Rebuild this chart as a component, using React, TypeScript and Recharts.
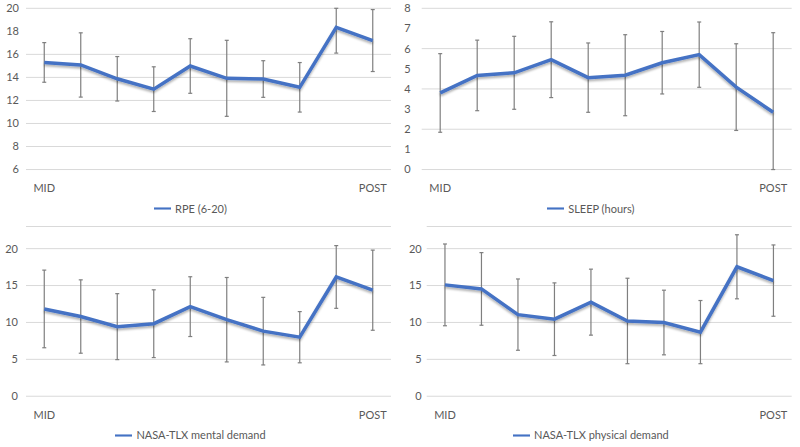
import React from 'react';
import { LineChart, Line, XAxis, YAxis, CartesianGrid, ErrorBar, Legend } from 'recharts';

// only the first and last time points carry a label
const xLabels = ['MID', '', '', '', '', '', '', '', '', 'POST'];

const rpeMean = [15.3, 15.08, 13.88, 12.98, 14.99, 13.92, 13.86, 13.14, 18.34, 17.2];
const rpeSd = [1.72, 2.79, 1.93, 1.94, 2.37, 3.3, 1.59, 2.15, 2.23, 2.69];
const rpeTicks = [6, 8, 10, 12, 14, 16, 18, 20];

const sleepMean = [3.8, 4.67, 4.8, 5.45, 4.56, 4.68, 5.3, 5.7, 4.09, 2.84];
const sleepSd = [1.95, 1.75, 1.81, 1.88, 1.72, 2.01, 1.55, 1.62, 2.15, 3.95];
const sleepTicks = [0, 1, 2, 3, 4, 5, 6, 7, 8];

const mentalMean = [11.83, 10.8, 9.43, 9.83, 12.14, 10.37, 8.82, 8.0, 16.16, 14.37];
const mentalSd = [5.26, 4.97, 4.47, 4.59, 4.05, 5.72, 4.58, 3.47, 4.25, 5.43];

const physicalMean = [15.09, 14.54, 11.06, 10.44, 12.75, 10.2, 9.99, 8.69, 17.54, 15.67];
const physicalSd = [5.54, 4.92, 4.83, 4.92, 4.47, 5.79, 4.38, 4.28, 4.34, 4.83];

const nasaTicks = [0, 5, 10, 15, 20];

const TEXT = '#595959';
const BLUE = '#4472C4';

const Panel = ({ id, left, top, height, marginTop, marginRight, yWidth, yGap, name, mean, sd, domain, ticks }: any) => {
    const data = mean.map((m: number, i: number) => ({ i, value: m, sd: sd[i] }));
    // error bars are cut at the axis range, like the original plot area does
    const errRange = (d: any) => [
        Math.min(d.sd, d.value - domain[0]),
        Math.min(d.sd, domain[1] - d.value),
    ];
    return (
        <div style={{ position: 'absolute', left, top }}>
            <LineChart
                width={400}
                height={height}
                data={data}
                margin={{ top: marginTop, right: marginRight, bottom: 4, left: 0 }}
            >
                <defs>
                    <filter id={id} x="-5%" y="-30%" width="110%" height="160%">
                        <feDropShadow dx="0" dy="2" stdDeviation="1.2" floodColor="#000" floodOpacity="0.3" />
                    </filter>
                </defs>
                <CartesianGrid vertical={false} stroke="#d9d9d9" />
                <XAxis
                    dataKey="i"
                    scale="band"
                    tickFormatter={(v: number) => xLabels[v]}
                    interval={0}
                    axisLine={false}
                    tickLine={false}
                    tickSize={0}
                    tickMargin={15}
                    height={27}
                    tick={{ fill: TEXT, fontSize: 11 }}
                />
                <YAxis
                    domain={domain}
                    ticks={ticks}
                    allowDataOverflow
                    width={yWidth}
                    axisLine={false}
                    tickLine={false}
                    tickSize={0}
                    tickMargin={yGap}
                    tick={{ fill: TEXT, fontSize: 11 }}
                />
                <Legend
                    verticalAlign="bottom"
                    iconType="plainline"
                    iconSize={17}
                    formatter={(v: string) => <span style={{ color: TEXT, fontSize: 11 }}>{v}</span>}
                />
                <Line
                    dataKey="value"
                    name={name}
                    stroke={BLUE}
                    strokeWidth={3.5}
                    dot={false}
                    activeDot={false}
                    filter={`url(#${id})`}
                    isAnimationActive={false}
                >
                    <ErrorBar dataKey={errRange} direction="y" width={2} stroke="#7f7f7f" strokeWidth={1.2} isAnimationActive={false} />
                </Line>
            </LineChart>
        </div>
    );
};

export default function App() {
    return (
        <div style={{ position: 'absolute', left: 0, top: 0, width: 800, height: 447, background: '#fff', fontFamily: 'Lato, sans-serif' }}>
            <Panel id="sh1" left={0} top={0} height={221} marginTop={8.3} marginRight={9} yWidth={26} yGap={7}
                name="RPE (6-20)" mean={rpeMean} sd={rpeSd} domain={[6, 20]} ticks={rpeTicks} />
            <Panel id="sh2" left={400} top={0} height={221} marginTop={8.3} marginRight={8.3} yWidth={21.7} yGap={11}
                name="SLEEP (hours)" mean={sleepMean} sd={sleepSd} domain={[0, 8]} ticks={sleepTicks} />
            <Panel id="sh3" left={0} top={224} height={223.7} marginTop={2.5} marginRight={9} yWidth={26} yGap={8}
                name="NASA-TLX mental demand" mean={mentalMean} sd={mentalSd} domain={[0, 23]} ticks={nasaTicks} />
            <Panel id="sh4" left={400} top={224} height={223.7} marginTop={2.5} marginRight={8.3} yWidth={26.7} yGap={5}
                name="NASA-TLX physical demand" mean={physicalMean} sd={physicalSd} domain={[0, 23]} ticks={nasaTicks} />
        </div>
    );
}
